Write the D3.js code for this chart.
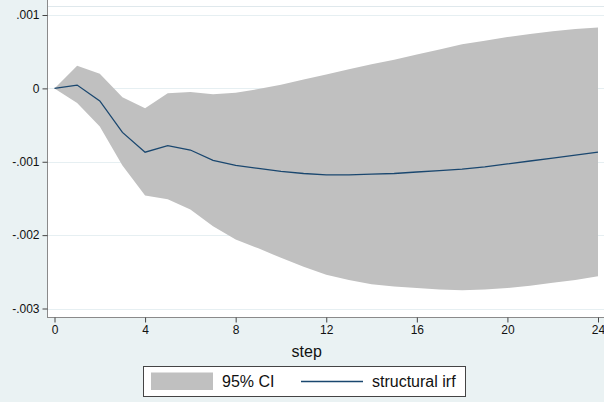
<!DOCTYPE html>
<html>
<head>
<meta charset="utf-8">
<script src="https://cdn.jsdelivr.net/npm/d3@7"></script>
<style>
  html, body { margin: 0; padding: 0; background: #eaf2f3; }
  svg { display: block; font-family: "Liberation Sans", Arial, sans-serif; }
</style>
</head>
<body>
<svg id="chart" width="604" height="402"></svg>
<script>
// ---- data ----
const steps = d3.range(0, 25);
const irf = [0, 0.000045, -0.00017, -0.0006, -0.00087, -0.00078, -0.00084, -0.00098,
  -0.00105, -0.00109, -0.00113, -0.00116, -0.00118, -0.00118, -0.00117, -0.00116,
  -0.00114, -0.00112, -0.00110, -0.00107, -0.00103, -0.00099, -0.00095, -0.00091, -0.00087];
const upper = [0, 0.00031, 0.0002, -0.00012, -0.00027, -0.000065, -0.00005, -0.00008,
  -0.00006, -0.00001, 0.00005, 0.00012, 0.00019, 0.00026, 0.00033, 0.00039,
  0.00046, 0.00053, 0.0006, 0.00065, 0.0007, 0.00074, 0.00078, 0.00081, 0.00083];
const lower = [0, -0.0002, -0.00052, -0.00105, -0.00146, -0.00151, -0.00165, -0.00188,
  -0.00206, -0.00218, -0.00231, -0.00243, -0.00254, -0.00261, -0.00267, -0.00270,
  -0.00272, -0.00274, -0.00275, -0.00274, -0.00272, -0.00269, -0.00265, -0.00261, -0.00256];
const xTicks = [0, 4, 8, 12, 16, 20, 24];
const yTicks = [0.001, 0, -0.001, -0.002, -0.003];
const yTickLabels = [".001", "0", "-.001", "-.002", "-.003"];
const legendLabels = ["95% CI", "structural irf"];
const xTitle = "step";

// ---- layout ----
const svg = d3.select("#chart");
const W = 604, H = 402;
const plotL = 47, plotR = 604, plotT = -2, plotB = 317;
const x = d3.scaleLinear().domain([0, 24]).range([54.5, 598]);
const y = d3.scaleLinear().domain([-0.003, 0.001]).range([308.5, 15]);

svg.append("rect").attr("width", W).attr("height", H).attr("fill", "#eaf2f3");
svg.append("rect").attr("x", plotL).attr("y", plotT)
  .attr("width", plotR - plotL).attr("height", plotB - plotT).attr("fill", "#ffffff");
svg.append("line").attr("x1", plotL).attr("x2", plotR).attr("y1", 6.5).attr("y2", 6.5)
  .attr("stroke", "#dfe8ec").attr("stroke-width", 1);

// gridlines
svg.append("g").selectAll("line").data(yTicks).join("line")
  .attr("x1", plotL).attr("x2", plotR)
  .attr("y1", d => Math.round(y(d)) + 0.5).attr("y2", d => Math.round(y(d)) + 0.5)
  .attr("stroke", "#e6eff2").attr("stroke-width", 1);

// CI band
const rows = steps.map((s, i) => ({ s, lo: lower[i], hi: upper[i], v: irf[i] }));
svg.append("path").datum(rows)
  .attr("d", d3.area().x(d => x(d.s)).y0(d => y(d.lo)).y1(d => y(d.hi)))
  .attr("fill", "#c0c0c0");

// IRF line
svg.append("path").datum(rows)
  .attr("d", d3.line().x(d => x(d.s)).y(d => y(d.v)))
  .attr("fill", "none").attr("stroke", "#1a476f").attr("stroke-width", 1.3);

// axes
const yAxis = d3.axisLeft(y).tickValues(yTicks).tickSize(5).tickPadding(3)
  .tickFormat((d, i) => yTickLabels[i]);
const gy = svg.append("g").attr("transform", `translate(${plotL + 0.5},0)`).call(yAxis);
gy.select(".domain").attr("d", `M0,${plotT}V${plotB}`).attr("stroke", "#8a8a8a");
gy.selectAll(".tick line").attr("stroke", "#444");
gy.selectAll("text").attr("font-size", 12).attr("fill", "#111")
  .attr("font-family", "Liberation Sans, Arial, sans-serif");

const xAxis = d3.axisBottom(x).tickValues(xTicks).tickSize(5).tickPadding(3)
  .tickFormat(d3.format("d"));
const gx = svg.append("g").attr("transform", `translate(0,${plotB + 0.5})`).call(xAxis);
gx.select(".domain").attr("d", `M${plotL},0H${plotR}`).attr("stroke", "#8a8a8a");
gx.selectAll(".tick line").attr("stroke", "#444");
gx.selectAll("text").attr("font-size", 12).attr("fill", "#111")
  .attr("font-family", "Liberation Sans, Arial, sans-serif");

// axis title
svg.append("text").attr("x", 306.7).attr("y", 357).attr("text-anchor", "middle")
  .attr("font-size", 16).attr("fill", "#111").text(xTitle);

// legend
const lg = svg.append("g");
lg.append("rect").attr("x", 143.5).attr("y", 366.5).attr("width", 322).attr("height", 30)
  .attr("fill", "#ffffff").attr("stroke", "#444").attr("stroke-width", 1);
lg.append("rect").attr("x", 151).attr("y", 372.5).attr("width", 62).attr("height", 17.5)
  .attr("fill", "#c0c0c0");
lg.append("text").attr("x", 222).attr("y", 387).attr("font-size", 16).attr("fill", "#111")
  .text(legendLabels[0]);
lg.append("line").attr("x1", 301).attr("x2", 363).attr("y1", 381.5).attr("y2", 381.5)
  .attr("stroke", "#1a476f").attr("stroke-width", 1.3);
lg.append("text").attr("x", 372).attr("y", 387).attr("font-size", 16).attr("fill", "#111")
  .text(legendLabels[1]);
</script>
</body>
</html>
